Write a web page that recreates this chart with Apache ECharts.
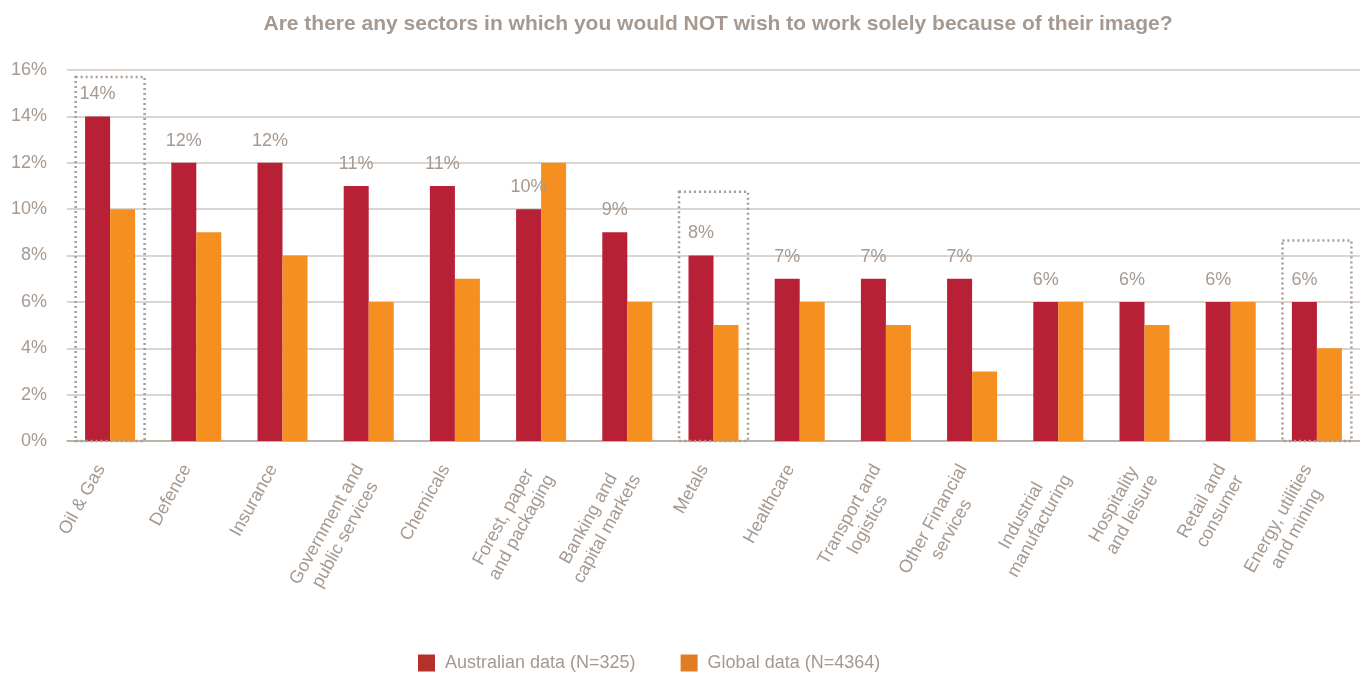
<!DOCTYPE html>
<html>
<head>
<meta charset="utf-8">
<title>Sectors</title>
<script src="https://cdn.jsdelivr.net/npm/echarts@6/dist/echarts.min.js"></script>
<style>
    html, body { margin: 0; padding: 0; background: #fff; }
    #chart { width: 1360px; height: 673px; }
</style>
</head>
<body>
<div id="chart"></div>
<script>
var sectors = ['Oil & Gas', 'Defence', 'Insurance', 'Government and\npublic services', 'Chemicals',
    'Forest, paper\nand packaging', 'Banking and\ncapital markets', 'Metals', 'Healthcare',
    'Transport and\nlogistics', 'Other Financial\nservices', 'Industrial\nmanufacturing',
    'Hospitality\nand leisure', 'Retail and\nconsumer', 'Energy, utilities\nand mining'];
var australian = [14, 12, 12, 11, 11, 10, 9, 8, 7, 7, 7, 6, 6, 6, 6];
var global = [10, 9, 8, 6, 7, 12, 6, 5, 6, 5, 3, 6, 5, 6, 4];
// highlighted sectors: [category index, top of dotted box in %]
var highlights = [[0, 15.7], [7, 10.75], [14, 8.65]];

var textColor = '#a59990';
var font = 'Liberation Sans, Arial, sans-serif';

var chart = echarts.init(document.getElementById('chart'));
chart.setOption({
    animation: false,
    title: {
        text: 'Are there any sectors in which you would NOT wish to work solely because of their image?',
        left: 713,
        textAlign: 'center',
        top: 9,
        textStyle: { color: textColor, fontSize: 21, fontWeight: 'bold', fontFamily: font }
    },
    legend: {
        left: 418,
        top: 654,
        padding: 0,
        itemWidth: 17,
        itemHeight: 17,
        itemGap: 45,
        icon: 'rect',
        textStyle: { color: textColor, fontSize: 18, fontFamily: font, padding: [0, 0, 0, 5] },
        data: [
            { name: 'Australian data (N=325)', itemStyle: { color: '#b3302b' } },
            { name: 'Global data (N=4364)', itemStyle: { color: '#e27c24' } }
        ]
    },
    grid: { left: 67, right: 0, top: 70, bottom: 232 },
    xAxis: {
        type: 'category',
        data: sectors,
        axisLine: { lineStyle: { color: '#b3a89f', width: 1.5 } },
        axisTick: { length: 10, lineStyle: { color: '#b3a89f', width: 1.5 } },
        axisLabel: {
            interval: 0,
            rotate: 61,
            margin: 30,
            color: textColor,
            fontSize: 18,
            fontFamily: font,
            lineHeight: 21,
            // every label is a two-line block so the first line always sits at the same spot
            formatter: function (v) {
                var lines = v.split('\n');
                if (lines.length < 2) { lines.push('\u00a0'); }
                return lines.map(function (s) { return '{c|' + s + '}'; }).join('\n');
            },
            rich: { c: { align: 'center', color: textColor, fontSize: 18, fontFamily: font, lineHeight: 21 } }
        }
    },
    yAxis: {
        type: 'value',
        min: 0,
        max: 16,
        interval: 2,
        axisLine: { show: false },
        axisTick: { show: false },
        axisLabel: {
            margin: 20,
            color: textColor,
            fontSize: 18,
            fontFamily: font,
            formatter: '{value}%'
        },
        splitLine: { lineStyle: { color: '#cfc6bf', width: 1.5 } }
    },
    series: [
        {
            name: 'Australian data (N=325)',
            type: 'bar',
            barWidth: 25,
            barGap: 0,
            itemStyle: { color: '#b82036' },
            label: {
                show: true,
                position: 'top',
                distance: 13,
                color: textColor,
                fontSize: 18,
                fontFamily: font,
                formatter: '{c}%'
            },
            data: australian
        },
        {
            name: 'Global data (N=4364)',
            type: 'bar',
            barWidth: 25,
            barGap: 0,
            itemStyle: { color: '#f58f1f' },
            data: global
        },
        {
            type: 'custom',
            silent: true,
            z: 5,
            renderItem: function (params, api) {
                var top = api.coord([api.value(0), api.value(1)]);
                var bottom = api.coord([api.value(0), 0]);
                var w = api.size([1, 0])[0] * 0.8;
                return {
                    type: 'rect',
                    shape: { x: top[0] - w / 2, y: top[1], width: w, height: bottom[1] - top[1] },
                    style: { fill: 'none', stroke: '#a89c94', lineWidth: 2.5, lineDash: [2, 3] }
                };
            },
            data: highlights
        }
    ]
});
</script>
</body>
</html>
